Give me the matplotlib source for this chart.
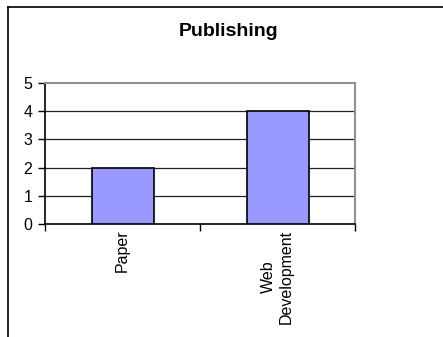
import matplotlib
matplotlib.use("Agg")
import matplotlib.pyplot as plt
from matplotlib.lines import Line2D

categories = ["Paper", "Web\nDevelopment"]
values = [2, 4]
yticks = [0, 1, 2, 3, 4, 5]

plt.rcParams['font.family'] = ['Liberation Sans', 'DejaVu Sans']

W, H = 443, 337
fig = plt.figure(figsize=(W / 100, H / 100), dpi=100)
ax = fig.add_axes([45 / W, 1 - 224 / H, (355 - 45) / W, (224 - 83) / H])

x = list(range(len(categories)))
ax.bar(x, values, width=0.4, color='#9999FF', edgecolor='black', linewidth=1.2, zorder=3)

ax.set_xlim(-0.5, len(categories) - 0.5)
ax.set_ylim(0, 5)
ax.set_yticks(yticks)
ax.set_yticklabels([str(t) for t in yticks], fontsize=11.5)
for t in yticks[1:-1]:
    ax.axhline(t, color='#202020', linewidth=0.9, zorder=1)

ax.set_xticks([i - 0.5 for i in range(len(categories) + 1)])
ax.set_xticklabels([])
ax.tick_params(axis='x', direction='out', length=5, width=1)
ax.tick_params(axis='y', direction='out', length=5, width=1, pad=4)
for i, c in enumerate(categories):
    ax.text(i, -0.2, c, rotation=90, ha='center', va='top', fontsize=11.5,
            multialignment='center', transform=ax.transData)

for s in ['top', 'right']:
    ax.spines[s].set_color('#909090')
    ax.spines[s].set_linewidth(1.5)
for s in ['left', 'bottom']:
    ax.spines[s].set_color('black')
    ax.spines[s].set_linewidth(1.2)

fig.text(229 / W, 1 - 32 / H, "Publishing", ha='center', va='center',
         fontsize=14, fontweight='bold')

# outer frame (left and top edges)
fig.add_artist(Line2D([8 / W, 8 / W], [0, 1 - 7 / H], color='black', linewidth=1.2,
                      transform=fig.transFigure))
fig.add_artist(Line2D([8 / W, 1], [1 - 7 / H, 1 - 7 / H], color='black', linewidth=1.2,
                      transform=fig.transFigure))

fig.savefig("out.png", dpi=100)
